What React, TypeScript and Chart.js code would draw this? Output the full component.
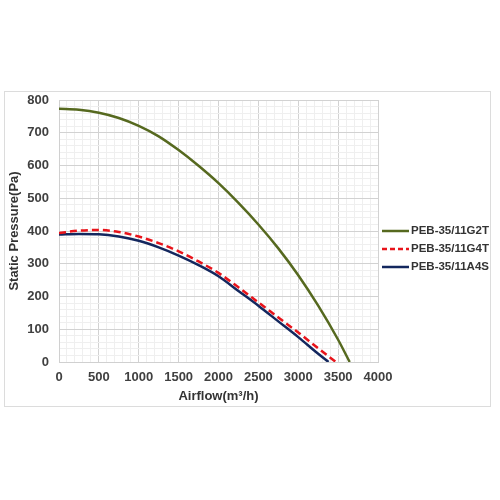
import React, { useEffect, useRef } from "react";
import { Chart, registerables } from "chart.js";

Chart.register(...registerables);

const seriesNames = ["PEB-35/11G2T", "PEB-35/11G4T", "PEB-35/11A4S"];

const greenX = [0, 250, 500, 750, 1000, 1250, 1500, 1750, 2000, 2250, 2500, 2750, 3000, 3250, 3500, 3645];
const greenY = [773, 770, 761, 745, 721, 689, 647, 599, 546, 486, 420, 347, 265, 172, 68, 0];

const redX = [0, 250, 500, 750, 1000, 1250, 1500, 1750, 2000, 2250, 2500, 2750, 3000, 3250, 3472];
const redY = [394, 401, 403, 397, 383, 363, 338, 307, 272, 228, 182, 136, 90, 42, 0];

const blueX = [0, 250, 500, 750, 1000, 1250, 1500, 1750, 2000, 2250, 2500, 2750, 3000, 3250, 3380];
const blueY = [389, 391, 390, 383, 370, 350, 325, 296, 262, 217, 172, 124, 76, 25, 0];

const xTickMax = 4000;
const yTickMax = 800;
const xTitle = "Airflow(m³/h)";
const yTitle = "Static Pressure(Pa)";

const colors = ["#56691f", "#e8141b", "#13275e"];
const FONT = "'Liberation Sans', Arial, sans-serif";

const pts = (xs: number[], ys: number[]) => xs.map((x, i) => ({ x, y: ys[i] }));

export default function App() {
  const ref = useRef<HTMLCanvasElement>(null);
  useEffect(() => {
    if (!ref.current) return;
    const overlay = {
      id: "overlay",
      afterDraw(chart: any) {
        const ctx = chart.ctx;
        const area = chart.chartArea;
        ctx.save();
        // y title
        ctx.font = `bold 13px ${FONT}`;
        ctx.fillStyle = "#333";
        ctx.textAlign = "center";
        ctx.textBaseline = "middle";
        ctx.translate(9, (area.top + area.bottom) / 2);
        ctx.rotate(-Math.PI / 2);
        ctx.fillText(yTitle, 0, 0);
        ctx.restore();
        // legend
        ctx.save();
        ctx.font = `bold 11.5px ${FONT}`;
        ctx.textBaseline = "middle";
        ctx.textAlign = "left";
        const ys = [139, 157, 175];
        seriesNames.forEach((name, i) => {
          const y = ys[i];
          ctx.strokeStyle = colors[i];
          ctx.lineWidth = 2.5;
          ctx.setLineDash(i === 1 ? [5, 3] : []);
          ctx.beginPath();
          ctx.moveTo(377, y);
          ctx.lineTo(404, y);
          ctx.stroke();
          ctx.setLineDash([]);
          ctx.fillStyle = "#333";
          ctx.fillText(name, 406, y);
        });
        ctx.restore();
      },
    };
    const chart = new Chart(ref.current, {
      type: "line",
      data: {
        datasets: [
          { label: seriesNames[0], data: pts(greenX, greenY), borderColor: colors[0], borderWidth: 2.5 },
          { label: seriesNames[1], data: pts(redX, redY), borderColor: colors[1], borderWidth: 2.5, borderDash: [7, 4] },
          { label: seriesNames[2], data: pts(blueX, blueY), borderColor: colors[2], borderWidth: 2.5 },
        ] as any,
      },
      options: {
        responsive: false,
        animation: false,
        maintainAspectRatio: false,
        layout: { padding: { left: 20, right: 112, top: 8, bottom: 2 } },
        elements: { point: { radius: 0 }, line: { cubicInterpolationMode: "monotone", fill: false } },
        plugins: { legend: { display: false }, tooltip: { enabled: false } },
        scales: {
          x: {
            type: "linear",
            min: 0,
            max: xTickMax,
            border: { color: "#d0d0d0" },
            afterFit: (s: any) => {
              s.height = 42;
              s.paddingLeft = 0;
              s.paddingRight = 0;
            },
            grid: {
              drawTicks: false,
              color: (c: any) => (c.tick && c.tick.value % 500 === 0 ? "#d2d2d2" : "#efefef"),
            },
            ticks: {
              stepSize: 100,
              autoSkip: false,
              maxRotation: 0,
              padding: 8,
              color: "#404040",
              font: { family: FONT, size: 13, weight: "bold" },
              callback: (v: any) => (v % 500 === 0 ? String(v) : ""),
            },
            title: {
              display: true,
              text: xTitle,
              color: "#333",
              padding: { top: 2, bottom: 0 },
              font: { family: FONT, size: 13, weight: "bold" },
            },
          },
          y: {
            type: "linear",
            min: 0,
            max: yTickMax,
            border: { color: "#d0d0d0" },
            afterFit: (s: any) => {
              s.width = 34;
              s.paddingTop = 0;
              s.paddingBottom = 0;
            },
            grid: {
              drawTicks: false,
              color: (c: any) => (c.tick && c.tick.value % 100 === 0 ? "#d2d2d2" : "#efefef"),
            },
            ticks: {
              stepSize: 20,
              autoSkip: false,
              padding: 10,
              color: "#404040",
              font: { family: FONT, size: 13, weight: "bold" },
              callback: (v: any) => (v % 100 === 0 ? String(v) : ""),
            },
          },
        },
      } as any,
      plugins: [overlay],
    });
    return () => chart.destroy();
  }, []);
  return (
    <div
      style={{
        position: "absolute",
        left: 4,
        top: 91,
        width: 485,
        height: 314,
        border: "1px solid #dcdcdc",
        background: "#fff",
      }}
    >
      <canvas ref={ref} width={485} height={314} style={{ display: "block" }} />
    </div>
  );
}
